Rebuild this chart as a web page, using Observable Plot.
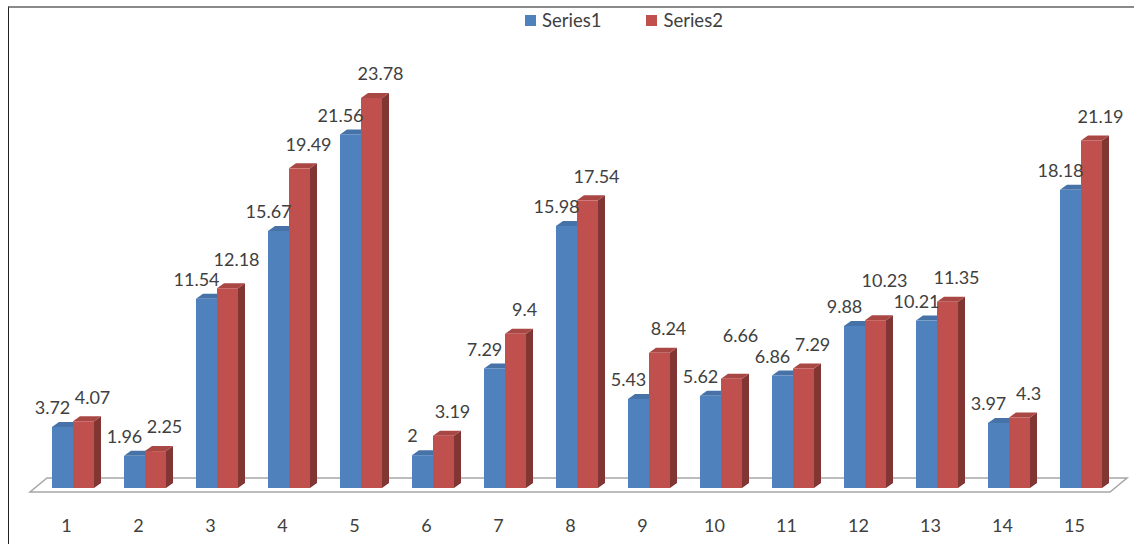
<!DOCTYPE html>
<html><head><meta charset="utf-8">
<script src="https://cdn.jsdelivr.net/npm/d3@7"></script>
<script src="https://cdn.jsdelivr.net/npm/@observablehq/plot@0.6"></script>
<style>
body{margin:0;background:#fff;font-family:Lato,"Open Sans",sans-serif}
#wrap{position:relative;width:1134px;height:544px;overflow:hidden;background:#fff}
#frame{position:absolute;left:8px;top:6px;width:1140px;height:560px;border-top:2px solid #8a8a8a;border-left:1px solid #222;pointer-events:none}
#legend{position:absolute;top:9px;left:525px;display:flex;align-items:center;font-size:18.5px;color:#404040}
#legend .item{display:flex;align-items:center}
#legend .sw{width:11px;height:11px;margin-right:6px}
#chart{position:absolute;left:0;top:0}
</style>
</head><body>
<div id="wrap"><div id="chart"></div><div id="frame"></div><div id="legend"></div></div>
<script>
const categories = ["1","2","3","4","5","6","7","8","9","10","11","12","13","14","15"];
const seriesNames = ["Series1","Series2"];
const series1 = [3.72,1.96,11.54,15.67,21.56,2,7.29,15.98,5.43,5.62,6.86,9.88,10.21,3.97,18.18];
const series2 = [4.07,2.25,12.18,19.49,23.78,3.19,9.4,17.54,8.24,6.66,7.29,10.23,11.35,4.3,21.19];
const colors = ["#4F81BD","#C0504D"];

const rows1 = categories.map((c,i)=>({cat:c, series:seriesNames[0], value:series1[i]}));
const rows2 = categories.map((c,i)=>({cat:c, series:seriesNames[1], value:series2[i]}));

const SHIFT = 7, DX = 7, DY = 5;

function bars3d(part){
  return (index, scales, values, dimensions) => {
    const g = d3.create("svg:g");
    const bw = scales.x.bandwidth() / 2;
    for (const i of index) {
      const x0 = values.x[i] + SHIFT + part*bw, x1 = x0 + bw;
      const yt = Math.min(values.y1[i], values.y2[i]), yb = Math.max(values.y1[i], values.y2[i]);
      const c = values.fill[i];
      g.append("path").attr("d", `M${x1},${yb}L${x1+DX},${yb-DY}L${x1+DX},${yt-DY}L${x1},${yt}Z`)
        .attr("fill", d3.color(c).darker(1.1));
      g.append("path").attr("d", `M${x0},${yt}L${x0+DX},${yt-DY}L${x1+DX},${yt-DY}L${x1},${yt}Z`)
        .attr("fill", d3.color(c).darker(0.35));
      g.append("rect").attr("x", x0).attr("y", yt).attr("width", bw).attr("height", yb-yt).attr("fill", c);
    }
    return g.node();
  };
}

function floor(index, scales, values, dimensions){
  const y0 = scales.y(0);
  const xl = dimensions.marginLeft, xr = dimensions.width - dimensions.marginRight;
  const g = d3.create("svg:g");
  g.append("path")
    .attr("d", `M${xl},${y0+4}L${xr},${y0+4}L${xr+17},${y0-10}L${xl+17},${y0-10}Z`)
    .attr("fill", "#fff").attr("stroke", "#a6a6a6").attr("stroke-width", 1.5);
  return g.node();
}

const plot = Plot.plot({
  width: 1134, height: 544,
  marginLeft: 30, marginRight: 24, marginTop: 78, marginBottom: 56,
  style: {fontFamily: "Lato, 'Open Sans', sans-serif", background: "transparent"},
  x: {domain: categories, paddingInner: 0.417, paddingOuter: 0.2085, label: null},
  y: {domain: [0, 25], axis: null},
  color: {domain: seriesNames, range: colors},
  marks: [
    Plot.ruleY([0], {render: floor}),
    Plot.barY(rows1, {x: "cat", y: "value", fill: "series", render: bars3d(0)}),
    Plot.barY(rows2, {x: "cat", y: "value", fill: "series", render: bars3d(1)}),
    Plot.text(rows1, {x: "cat", y: "value", text: d => String(d.value), dx: -14, dy: -19, fontSize: 18, fill: "#404040"}),
    Plot.text(rows2, {x: "cat", y: "value", text: d => String(d.value), dx: 26, dy: -24, fontSize: 18, fill: "#404040"}),
    Plot.axisX({tickSize: 0, tickPadding: 31, fontSize: 18, fill: "#404040", label: null})
  ]
});
document.getElementById("chart").appendChild(plot);

// simple label collision avoidance: lift Series2 labels clear of Series1 labels
const textGroups = plot.querySelectorAll('g[aria-label="text"]');
if (textGroups.length >= 2) {
  const blue = Array.from(textGroups[0].querySelectorAll("text"));
  const red = Array.from(textGroups[1].querySelectorAll("text"));
  const hit = (a, b) => a.left < b.right && b.left < a.right && a.top + 1 < b.bottom - 1 && b.top + 1 < a.bottom - 1;
  for (const r of red) {
    const base = r.getAttribute("transform") || "";
    let shift = 0;
    while (shift < 40 && blue.some(b => hit(r.getBoundingClientRect(), b.getBoundingClientRect()))) {
      shift += 1;
      r.setAttribute("transform", `${base} translate(0,${-shift})`);
    }
  }
}

const leg = d3.select("#legend");
seriesNames.forEach((s, i) => {
  const it = leg.append("div").attr("class", "item").style("margin-right", i === 0 ? "45px" : "0");
  it.append("div").attr("class", "sw").style("background", colors[i]);
  it.append("span").text(s);
});
</script>
</body></html>
